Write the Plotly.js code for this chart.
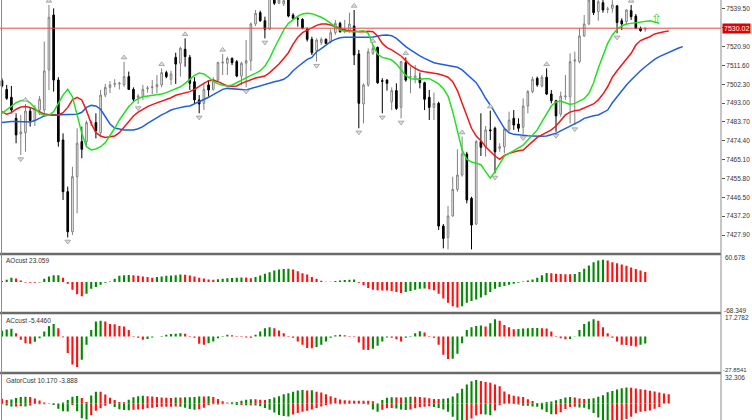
<!DOCTYPE html>
<html><head><meta charset="utf-8">
<script src="https://cdn.plot.ly/plotly-3.0.1.min.js"></script>
<style>html,body{margin:0;padding:0;background:#fff;}#chart{width:752px;height:420px;}</style>
</head><body><div id="chart"></div>
<script>
// ---- price data (one entry per bar) ----
const opens = [7504.1,7499.8,7495.9,7485.5,7477.8,7478.4,7489.1,7484.4,7489.6,7489.6,
7509.4,7536.5,7504.4,7474.8,7449.3,7429.5,7456.7,7474.0,7474.0,7483.4,
7483.4,7478.4,7497.0,7500.8,7502.3,7502.5,7502.0,7506.1,7499.8,7495.9,
7496.2,7500.2,7500.7,7501.1,7502.0,7508.1,7504.8,7515.6,7512.7,7519.6,
7515.6,7503.6,7494.6,7492.9,7502.0,7499.8,7504.4,7512.8,7512.7,7515.1,
7513.5,7506.4,7512.7,7514.0,7532.1,7537.7,7533.7,7529.5,7544.8,7542.3,
7542.0,7543.9,7536.5,7534.7,7534.4,7529.5,7524.5,7518.9,7522.9,7524.5,
7523.4,7527.8,7532.4,7529.3,7528.8,7531.1,7517.3,7492.6,7502.0,7517.6,
7520.6,7504.1,7504.4,7493.7,7499.2,7490.9,7513.0,7505.8,7504.8,7505.3,
7503.1,7495.9,7490.9,7492.9,7432.3,7426.7,7437.3,7450.4,7457.5,7467.9,
7446.0,7433.3,7474.0,7471.5,7479.8,7480.6,7470.7,7471.5,7479.8,7485.5,
7482.7,7481.1,7491.6,7498.7,7505.3,7501.5,7505.8,7497.5,7494.2,7487.6,
7496.2,7496.2,7513.8,7513.5,7526.2,7532.1,7543.9,7538.2,7542.6,7539.3,
7539.8,7541.0,7533.7,7533.2,7538.7,7536.0,7530.0,7529.3];
const highs = [7505.3,7502.0,7501.5,7488.0,7487.2,7492.6,7490.9,7492.1,7496.5,7523.4,
7541.5,7539.8,7505.8,7478.1,7451.8,7461.6,7480.6,7481.4,7484.4,7484.4,
7488.0,7499.5,7502.5,7503.9,7504.8,7503.6,7513.5,7508.6,7500.8,7497.4,
7502.0,7501.5,7504.4,7506.9,7510.2,7509.0,7509.0,7517.9,7520.9,7525.0,
7516.8,7505.8,7497.0,7503.1,7504.4,7505.8,7513.5,7517.3,7516.0,7515.6,
7514.3,7513.5,7524.2,7532.8,7539.0,7538.7,7535.7,7546.4,7546.4,7545.6,
7545.3,7544.8,7537.4,7536.0,7534.9,7530.4,7525.8,7525.0,7525.5,7525.0,
7529.5,7534.1,7533.2,7534.1,7537.7,7539.0,7519.3,7502.8,7520.1,7521.7,
7520.9,7505.3,7504.8,7500.8,7502.8,7513.8,7515.6,7511.0,7511.8,7508.1,
7503.6,7499.5,7498.2,7493.7,7433.3,7442.2,7456.7,7470.2,7476.5,7469.0,
7446.8,7474.8,7488.0,7481.7,7489.3,7481.4,7473.2,7480.6,7488.8,7489.6,
7485.5,7495.4,7499.5,7506.1,7506.1,7506.9,7510.2,7499.5,7494.6,7498.7,
7506.9,7517.6,7518.4,7530.0,7536.5,7545.6,7545.6,7544.8,7543.9,7540.6,
7543.9,7541.5,7534.9,7539.3,7541.5,7537.0,7530.8,7530.4];
const lows = [7500.8,7494.6,7488.0,7473.2,7467.4,7469.0,7481.4,7481.7,7487.2,7487.2,
7499.5,7498.7,7471.5,7445.2,7426.7,7427.9,7438.6,7465.8,7471.5,7481.7,
7475.6,7476.5,7495.9,7497.9,7500.8,7499.8,7501.1,7499.5,7493.7,7492.6,
7494.6,7498.2,7497.5,7497.9,7500.8,7505.3,7502.0,7502.5,7506.1,7511.0,
7499.5,7492.9,7488.0,7489.6,7496.2,7499.2,7503.6,7506.9,7506.9,7511.8,
7505.8,7502.0,7500.8,7509.0,7531.1,7533.2,7525.0,7529.1,7541.5,7542.0,
7541.0,7535.4,7534.1,7530.8,7529.5,7523.4,7516.8,7513.5,7521.7,7522.2,
7522.5,7526.7,7527.8,7527.5,7527.8,7511.8,7480.6,7483.0,7501.1,7516.8,
7502.5,7488.0,7499.2,7489.6,7489.6,7485.5,7503.6,7497.9,7502.8,7500.3,
7489.6,7484.7,7484.7,7430.4,7421.3,7420.8,7436.9,7449.3,7456.7,7443.5,
7420.8,7432.8,7466.9,7466.6,7474.8,7458.3,7469.0,7468.2,7478.9,7479.8,
7478.9,7477.8,7488.0,7497.9,7501.1,7500.8,7497.0,7492.9,7478.9,7486.3,
7494.6,7483.0,7482.2,7512.7,7525.8,7531.6,7536.5,7533.7,7537.7,7537.4,
7537.7,7527.5,7529.1,7531.6,7534.1,7529.5,7528.3,7528.3];
const closes = [7501.5,7495.4,7489.6,7477.3,7478.8,7489.1,7484.4,7490.4,7494.9,7508.9,
7535.4,7504.4,7474.0,7449.3,7429.5,7456.7,7473.2,7470.2,7483.4,7483.7,
7479.4,7497.0,7500.8,7502.0,7502.6,7502.8,7506.1,7499.8,7494.9,7496.5,
7499.8,7500.5,7501.0,7502.1,7508.1,7506.1,7507.4,7512.3,7520.1,7516.0,
7502.8,7494.6,7492.6,7499.8,7499.5,7504.4,7513.0,7513.2,7515.1,7513.0,
7506.4,7512.7,7514.0,7532.1,7537.4,7533.7,7529.5,7544.8,7542.3,7543.9,
7543.6,7536.0,7534.9,7534.6,7530.0,7524.5,7517.9,7524.2,7524.5,7522.5,
7527.8,7532.4,7528.3,7529.5,7532.1,7516.8,7492.9,7502.0,7518.4,7520.1,
7503.1,7503.8,7502.8,7499.2,7490.4,7513.5,7504.4,7506.1,7506.4,7503.1,
7494.9,7490.9,7492.9,7432.3,7426.2,7437.3,7450.4,7457.5,7467.9,7445.2,
7432.8,7474.0,7471.2,7479.8,7479.4,7469.0,7471.5,7480.1,7484.7,7482.2,
7480.6,7491.6,7498.7,7504.8,7502.0,7505.8,7497.5,7494.2,7486.7,7496.5,
7496.5,7513.5,7514.3,7526.2,7532.1,7543.9,7537.7,7543.1,7539.0,7539.5,
7541.5,7532.8,7532.1,7539.0,7535.7,7530.0,7528.8,7530.02];

// ---- alligator lines (displayed, already shifted forward) ----
const lips = [7488.0,7489.6,7491.6,7493.2,7494.2,7494.6,7493.2,7490.4,7488.0,7487.0,
7487.0,7488.8,7492.9,7497.0,7499.8,7496.2,7487.2,7478.1,7471.5,7469.9,
7470.4,7471.5,7473.5,7476.8,7480.6,7484.7,7488.3,7491.3,7493.7,7495.2,
7496.2,7496.5,7496.9,7497.0,7497.5,7498.2,7499.2,7500.2,7501.1,7502.8,
7504.8,7506.7,7507.9,7507.4,7505.8,7503.8,7502.5,7501.8,7501.5,7502.0,
7503.1,7504.4,7505.8,7506.7,7507.7,7509.0,7511.3,7515.1,7520.1,7525.0,
7529.1,7532.4,7534.4,7536.0,7537.0,7537.4,7537.2,7536.4,7535.4,7534.1,
7532.4,7530.8,7529.1,7528.5,7528.3,7528.3,7528.5,7528.8,7527.5,7521.7,
7517.1,7515.6,7515.1,7514.3,7512.3,7509.7,7506.7,7505.1,7504.8,7504.8,
7505.1,7505.1,7503.9,7502.5,7500.2,7496.5,7488.8,7478.9,7469.9,7465.3,
7463.9,7463.3,7462.6,7459.2,7455.9,7459.2,7463.3,7466.9,7468.2,7469.5,
7470.7,7472.3,7474.8,7477.3,7479.8,7483.9,7488.0,7491.6,7493.6,7494.1,
7493.2,7492.4,7492.9,7494.1,7495.2,7497.9,7503.1,7510.2,7516.8,7522.5,
7526.7,7529.5,7531.1,7532.1,7532.4,7532.7,7533.1,7533.6,7533.7,7533.1,7532.4];
const teeth = [7488.8,7487.5,7488.3,7490.0,7491.1,7491.3,7490.9,7490.0,7488.8,7487.6,
7487.2,7487.0,7487.2,7488.3,7490.9,7494.6,7495.9,7494.6,7489.3,7483.0,
7478.4,7476.8,7476.1,7476.3,7476.8,7478.4,7481.1,7483.9,7486.7,7488.6,
7490.0,7491.3,7492.3,7493.2,7493.9,7494.6,7495.7,7496.9,7497.5,7498.2,
7498.7,7499.8,7501.5,7502.8,7504.1,7504.4,7503.6,7502.5,7501.5,7501.3,
7501.5,7502.8,7503.8,7504.8,7505.4,7505.9,7506.4,7508.1,7510.2,7512.3,
7515.1,7517.9,7522.2,7525.5,7527.8,7529.1,7530.4,7531.4,7532.1,7532.1,
7531.6,7530.8,7529.8,7529.1,7528.8,7528.5,7528.3,7528.3,7528.5,7528.3,
7526.2,7522.5,7520.4,7519.3,7517.9,7516.3,7514.0,7511.7,7510.2,7509.0,
7508.5,7508.2,7507.9,7507.4,7506.7,7505.8,7503.6,7499.2,7492.9,7486.3,
7480.6,7476.8,7474.5,7471.5,7469.0,7466.9,7465.3,7467.2,7468.2,7469.0,
7469.5,7469.9,7472.2,7474.0,7476.1,7477.3,7478.4,7479.8,7481.7,7484.4,
7487.2,7488.6,7489.3,7489.6,7490.6,7491.6,7492.6,7494.6,7497.5,7501.1,
7505.8,7509.0,7511.8,7514.6,7517.6,7521.7,7523.9,7524.9,7525.8,7527.2,7527.8,7528.3,7528.6];
const jaw = [7483.4,7483.7,7483.9,7483.9,7483.9,7483.7,7483.7,7484.4,7485.5,7486.7,
7487.2,7487.2,7487.2,7487.2,7487.2,7487.2,7487.5,7488.5,7490.9,7491.9,
7491.6,7490.0,7486.0,7482.7,7480.7,7480.1,7479.8,7479.8,7479.8,7480.4,
7481.4,7483.0,7484.4,7486.0,7487.2,7488.3,7489.6,7490.3,7490.9,7491.3,
7491.6,7492.6,7493.6,7494.9,7495.9,7497.2,7498.5,7499.8,7500.3,7500.0,
7499.8,7499.7,7499.5,7500.2,7500.8,7501.6,7502.5,7503.1,7503.6,7504.1,
7504.8,7506.4,7509.0,7511.0,7512.7,7514.6,7515.6,7518.4,7519.9,7521.7,
7523.4,7524.5,7525.3,7525.5,7525.5,7525.3,7525.3,7525.3,7525.5,7525.7,
7526.2,7526.5,7526.7,7526.3,7525.0,7522.9,7520.9,7519.3,7517.6,7516.3,
7515.1,7514.0,7513.0,7512.5,7512.0,7511.7,7511.3,7510.7,7509.4,7507.4,
7505.3,7503.1,7499.5,7495.4,7492.1,7488.0,7484.4,7480.6,7478.4,7477.6,
7477.3,7477.1,7476.9,7476.8,7476.6,7476.6,7476.8,7477.4,7478.1,7479.3,
7480.4,7481.4,7482.7,7484.0,7485.5,7486.3,7486.8,7487.2,7488.3,7489.6,
7493.2,7496.2,7499.2,7502.0,7504.4,7506.9,7509.0,7511.0,7513.0,7514.6,7516.0,7517.1,7518.1,7519.3,7520.1,7520.9];

// ---- fractal bars ----
const fractalUp = [5,10,26,34,39,47,75,79,86,98,104,116,134];
const fractalDown = [4,14,29,42,52,56,67,76,81,85,105,111,118,122,131];

// ---- oscillators ----
const ao = [2.3,5.3,9.8,8.3,3.8,-0.8,-1.5,-1.7,-0.8,7.5,
12.8,15.5,15.8,9.8,-3.8,-17.4,-27.9,-32.5,-26.4,-15.1,
-11.3,-6.0,-1.5,1.5,7.5,14.3,15.4,16.2,15.8,14.3,
12.8,11.3,9.8,11.3,12.8,14.3,15.1,15.4,17.4,17.0,
15.1,12.8,9.8,8.3,6.0,5.3,6.5,7.5,8.5,9.5,
10.0,10.5,10.2,9.0,11.3,15.1,18.9,22.6,26.4,28.7,
29.8,30.6,28.7,24.9,20.4,17.4,11.3,7.5,3.0,1.0,
0.5,2.5,3.8,4.6,5.3,5.6,-1.5,-7.5,-13.6,-17.4,
-18.9,-19.2,-19.5,-20.4,-22.6,-24.9,-22.6,-20.4,-17.4,-15.1,
-14.8,-16.6,-18.9,-26.4,-37.7,-47.5,-55.1,-58.1,-55.1,-47.5,
-43.0,-40.0,-35.5,-30.2,-22.6,-15.1,-11.3,-9.1,-6.0,-3.8,
-1.5,1.5,3.8,6.0,9.8,15.5,20.8,20.0,19.2,18.5,
17.9,17.6,18.5,23.0,30.2,37.7,45.3,49.1,50.7,49.1,
45.3,43.0,40.0,37.0,33.5,30.0,26.5,23.059];
const ac = [4.5,5.5,6.0,2.6,-2.6,-5.2,-5.7,-4.2,-1.3,3.9,
8.3,9.9,6.5,-0.5,-13.0,-22.0,-23.9,-18.2,-6.5,5.2,
11.7,12.4,11.7,9.9,9.6,8.3,7.8,5.2,0.5,-1.0,
-2.6,-2.0,-0.8,0.0,0.5,1.3,2.0,2.2,2.6,2.1,
0.5,-1.0,-5.7,-6.5,-5.2,-3.9,-1.3,0.5,1.3,1.0,
0.5,-0.3,-0.8,-1.0,1.3,3.9,6.5,7.3,6.5,4.7,
2.6,0.5,-1.0,-3.9,-6.5,-9.1,-9.3,-8.3,-6.5,-3.9,
-1.0,1.0,1.3,1.0,0.5,-0.3,-4.7,-10.4,-10.6,-9.6,
-7.3,-3.9,-0.8,-1.0,-2.1,-3.9,-1.0,0.5,2.6,4.1,
3.1,0.5,-1.0,-6.5,-14.3,-17.6,-17.4,-13.5,-5.2,5.2,
7.3,8.3,8.6,7.8,10.4,13.5,12.4,9.1,7.3,5.7,
5.9,6.2,6.5,6.6,6.7,6.5,6.3,3.9,0.5,-1.3,
-2.1,-1.9,0.3,5.2,9.9,11.7,13.5,12.4,7.3,2.6,
-1.0,-3.9,-6.5,-6.7,-7.3,-7.8,-6.5,-5.446];
const gatorUp = [5.4,3.8,4.4,6.1,7.2,7.6,7.2,5.6,3.3,1.0,
0.2,0.2,0.1,1.2,3.8,7.4,8.4,6.1,1.6,8.9,
13.2,13.2,9.9,6.4,4.0,1.6,1.3,4.1,6.9,8.2,
8.6,8.2,7.9,7.2,6.7,6.3,6.1,6.6,6.6,6.9,
7.1,7.2,7.9,7.9,8.2,7.2,5.1,2.6,1.2,1.3,
1.6,3.1,4.3,4.6,4.6,4.3,4.0,4.9,6.6,8.2,
10.4,11.5,13.2,14.5,15.1,14.5,14.8,13.0,12.2,10.4,
8.2,6.3,4.4,3.6,3.3,3.1,3.0,3.0,3.0,2.6,
0.1,4.0,6.3,7.1,7.1,6.6,6.9,7.6,7.4,7.2,
6.6,5.8,5.1,5.1,5.3,5.9,7.7,11.5,16.5,21.1,
24.7,26.3,25.0,23.9,23.0,21.1,19.1,13.3,10.2,8.6,
7.7,7.2,4.8,2.8,0.5,0.7,1.6,2.3,3.6,5.1,
6.7,7.2,6.6,5.6,5.1,5.3,5.8,7.4,9.2,12.5,
14.0,15.5,17.0,17.8,17.5,16.8,16.0,15.2,14.3,13.3,12.3,11.2,10.170];
const gatorDown = [-0.8,-2.1,-3.3,-3.3,-3.1,-3.3,-2.3,-0.5,-0.8,-0.7,
-0.2,-1.8,-5.8,-8.7,-8.9,-1.6,-8.7,-16.5,-17.8,-13.2,
-8.1,-5.3,-2.6,-0.5,-3.8,-6.3,-7.2,-7.4,-7.1,-6.6,
-6.3,-5.3,-4.6,-3.8,-3.6,-3.6,-3.5,-3.3,-3.6,-4.6,
-6.1,-6.9,-6.4,-4.6,-1.6,-0.7,-1.2,-0.7,-0.1,-0.7,
-1.6,-1.6,-2.0,-2.0,-2.3,-3.1,-4.9,-7.1,-9.9,-12.7,
-14.0,-14.5,-12.2,-10.5,-9.2,-8.2,-6.7,-4.9,-3.3,-2.0,
-0.8,-0.1,-0.7,-0.7,-0.5,-0.2,-0.2,-0.5,-1.0,-6.6,
-9.1,-6.9,-5.3,-4.9,-5.6,-6.6,-7.2,-6.6,-5.4,-4.3,
-3.5,-3.1,-4.0,-4.9,-6.6,-9.2,-14.8,-20.2,-23.0,-21.1,
-16.6,-13.5,-11.9,-12.3,-13.2,-7.7,-2.0,-0.3,-0.1,-0.5,
-1.2,-2.5,-2.6,-3.3,-3.6,-6.6,-9.5,-11.9,-11.9,-9.7,
-6.1,-3.8,-3.6,-4.4,-4.6,-6.3,-10.5,-15.6,-19.3,-21.4,
-20.9,-20.4,-19.3,-17.4,-14.8,-11.0,-9.2,-8.7,-7.9,-5.9,-3.888];

// ---- axis ticks / labels ----
const priceTicks = [7539.50,7530.20,7520.90,7511.60,7502.30,7493.00,7483.70,7474.40,7465.10,7455.80,7446.50,7437.20,7427.90];
const aoScale = [-68.349, 60.678];
const acScale = [-27.8541, 17.2782];
const gatorTop = 32.306;
const lastPrice = 7530.02;
const signalArrow = {bar: 139.3, price: 7535.0};

// ---- styling ----
const GREEN = '#008a00', RED = '#ff1010';
const FONT = 'Liberation Sans, Arial, sans-serif';
const FR_GAP = 2.0;

const idx = n => Array.from({length:n}, (_, i) => i);
function colorsRise(v, first) {
  return v.map((x, i) => i === 0 ? first : (x > v[i-1] ? GREEN : RED));
}
function colorsAbsRise(v, first) {
  return v.map((x, i) => i === 0 ? first : (Math.abs(x) > Math.abs(v[i-1]) ? GREEN : RED));
}
const N = closes.length;

const traces = [
  {type:'candlestick', x: idx(N), open: opens, high: highs, low: lows, close: closes,
   increasing:{line:{color:'#808080', width:1}, fillcolor:'#ffffff'},
   decreasing:{line:{color:'#000000', width:1}, fillcolor:'#000000'},
   whiskerwidth:0, hoverinfo:'skip', xaxis:'x', yaxis:'y', showlegend:false},
  {type:'scatter', mode:'lines', x: idx(jaw.length), y: jaw, line:{color:'#1f5fdc', width:1.5}, hoverinfo:'skip', showlegend:false},
  {type:'scatter', mode:'lines', x: idx(teeth.length), y: teeth, line:{color:'#f01818', width:1.5}, hoverinfo:'skip', showlegend:false},
  {type:'scatter', mode:'lines', x: idx(lips.length), y: lips, line:{color:'#22e022', width:1.5}, hoverinfo:'skip', showlegend:false},
  {type:'scatter', mode:'markers', x: fractalUp, y: fractalUp.map(i => highs[i] + FR_GAP),
   marker:{symbol:'triangle-up', size:5, color:'#dcdcdc', line:{color:'#9a9a9a', width:0.8}}, hoverinfo:'skip', showlegend:false},
  {type:'scatter', mode:'markers', x: fractalDown, y: fractalDown.map(i => lows[i] - FR_GAP),
   marker:{symbol:'triangle-down', size:5, color:'#dcdcdc', line:{color:'#9a9a9a', width:0.8}}, hoverinfo:'skip', showlegend:false},
  {type:'bar', x: idx(ao.length), y: ao, width:0.45, marker:{color: colorsRise(ao, GREEN), line:{width:0}}, xaxis:'x', yaxis:'y2', hoverinfo:'skip', showlegend:false},
  {type:'bar', x: idx(ac.length), y: ac, width:0.45, marker:{color: colorsRise(ac, GREEN), line:{width:0}}, xaxis:'x', yaxis:'y3', hoverinfo:'skip', showlegend:false},
  {type:'bar', x: idx(gatorUp.length), y: gatorUp, width:0.45, marker:{color: colorsRise(gatorUp, RED), line:{width:0}}, xaxis:'x', yaxis:'y4', hoverinfo:'skip', showlegend:false},
  {type:'bar', x: idx(gatorDown.length), y: gatorDown, width:0.45, marker:{color: colorsAbsRise(gatorDown, GREEN), line:{width:0}}, xaxis:'x', yaxis:'y4', hoverinfo:'skip', showlegend:false}
];

const H = 420;
const py = px => 1 - px / H;
const gatorRange = [-(420 - 403.5) * gatorTop / (403.5 - 374.5), gatorTop];

const small = {family: FONT, size: 6.5, color: '#333333'};
const ann = [
  {xref:'paper', yref:'y', x:1, y:lastPrice, xanchor:'left', yanchor:'middle', xshift:1, showarrow:false,
   text:lastPrice.toFixed(2), bgcolor:'#e00000', borderpad:1, font:{family:FONT, size:7, color:'#ffffff'}},
  {xref:'paper', yref:'paper', x:0.006, y:py(260), xanchor:'left', yanchor:'middle', showarrow:false,
   text:'AOcust ' + ao[ao.length-1].toFixed(3), font:small},
  {xref:'paper', yref:'paper', x:0.006, y:py(320), xanchor:'left', yanchor:'middle', showarrow:false,
   text:'ACcust ' + ac[ac.length-1].toFixed(4), font:small},
  {xref:'paper', yref:'paper', x:0.006, y:py(380), xanchor:'left', yanchor:'middle', showarrow:false,
   text:'GatorCust ' + gatorUp[gatorUp.length-1].toFixed(3) + ' ' + gatorDown[gatorDown.length-1].toFixed(3), font:small},
  {xref:'paper', yref:'paper', x:1, y:py(257.5), xanchor:'left', yanchor:'middle', xshift:2, showarrow:false, text:aoScale[1].toFixed(3), font:small},
  {xref:'paper', yref:'paper', x:1, y:py(310.5), xanchor:'left', yanchor:'middle', xshift:1, showarrow:false, text:aoScale[0].toFixed(3), font:small},
  {xref:'paper', yref:'paper', x:1, y:py(317), xanchor:'left', yanchor:'middle', xshift:2, showarrow:false, text:acScale[1].toFixed(4), font:small},
  {xref:'paper', yref:'paper', x:1, y:py(370), xanchor:'left', yanchor:'middle', xshift:0, showarrow:false, text:acScale[0].toFixed(4), font:{family:FONT, size:6, color:'#333333'}},
  {xref:'paper', yref:'paper', x:1, y:py(377), xanchor:'left', yanchor:'middle', xshift:2, showarrow:false, text:gatorTop.toFixed(3), font:small},
  {xref:'x', yref:'y', x:signalArrow.bar, y:signalArrow.price, showarrow:false, text:'⇧',
   font:{family:'DejaVu Sans', size:13, color:'#2fd42f'}}
];

const sepLine = y => ({type:'line', xref:'paper', yref:'paper', x0:0, x1:1, y0:py(y), y1:py(y), line:{color:'#6a6a6a', width:2.5}});
const shapes = [
  {type:'line', xref:'paper', yref:'y', x0:0, x1:1, y0:lastPrice, y1:lastPrice, line:{color:'#e84848', width:1}},
  sepLine(254), sepLine(313), sepLine(373),
  {type:'line', xref:'paper', yref:'paper', x0:0.0021, x1:0.0021, y0:0, y1:1, line:{color:'#8c8c8c', width:1}},
  {type:'line', xref:'paper', yref:'paper', x0:1, x1:1, y0:0, y1:1, line:{color:'#8c8c8c', width:1}}
];

// the tick under the current-price box is covered in the original chart
const tickText = priceTicks.map(v => Math.abs(v - lastPrice) < 1 ? '' : v.toFixed(2));

const hidden = {showgrid:false, zeroline:false, showticklabels:false, showline:false, ticks:'', fixedrange:true};
const layout = {
  width:752, height:420, margin:{l:0, r:31, t:0, b:0},
  paper_bgcolor:'#ffffff', plot_bgcolor:'#ffffff',
  showlegend:false, barmode:'overlay', boxgap:0.5,
  font:{family:FONT, size:7, color:'#333'},
  xaxis: Object.assign({}, hidden, {domain:[0,1], range:[-0.426, 153.14], rangeslider:{visible:false}, anchor:'y'}),
  yaxis: {domain:[py(253),1], range:[7419.01, 7543.94], side:'right', showgrid:false, zeroline:false, showline:false,
          tickmode:'array', tickvals:priceTicks, ticktext:tickText,
          ticks:'outside', ticklen:3, tickcolor:'#555', tickfont:{family:FONT, size:6.5, color:'#333'}, fixedrange:true, anchor:'x'},
  yaxis2: Object.assign({}, hidden, {domain:[py(312), py(255.5)], range:aoScale, anchor:'x'}),
  yaxis3: Object.assign({}, hidden, {domain:[py(372), py(314.5)], range:acScale, anchor:'x'}),
  yaxis4: Object.assign({}, hidden, {domain:[0, py(374.5)], range:gatorRange, anchor:'x'}),
  shapes: shapes, annotations: ann
};

Plotly.newPlot('chart', traces, layout, {staticPlot:true, displayModeBar:false});
</script></body></html>
